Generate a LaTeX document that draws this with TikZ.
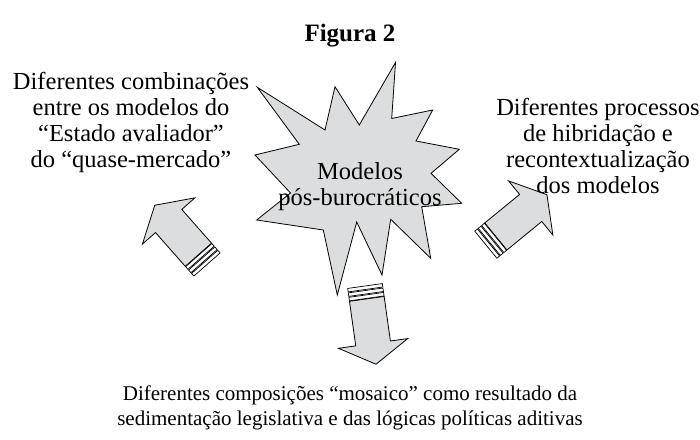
\documentclass[tikz,border=0pt]{standalone}
\usepackage{fontspec}
\setmainfont{Liberation Serif}
\usepackage{tikz}
\usetikzlibrary{positioning}
\definecolor{cinza}{HTML}{DCDDDE}

\begin{document}
\begin{tikzpicture}[x=1pt, y=1pt,
  seta/.style={draw=black, fill=cinza, line width=0.8pt, line join=miter},
  faixa/.style={draw=black, fill=white, line width=0.7pt},
  texto/.style={inner sep=0pt, align=center, font=\fontsize{24.5}{26}\selectfont},
  rodape/.style={inner sep=0pt, align=center, font=\fontsize{21}{25}\selectfont}]
\useasboundingbox (0,0) rectangle (700,439);

% Titulo
\node[inner sep=0pt, anchor=base, font=\fontsize{25}{28}\selectfont\bfseries] (titulo) at (350,397) {Figura 2};

% Estrela
\draw[seta] (395.5,376.5) -- (391.7,320.5) -- (432.7,329) -- (416,298) -- (459.3,289.7)
  -- (431,265.7) -- (461.7,235.7) -- (421.7,232.3) -- (430.7,180.7) -- (390.7,219.7)
  -- (382,164) -- (356.7,217) -- (337.3,144) -- (323.3,209) -- (256.7,219)
  -- (290.5,246) -- (255,284) -- (299.3,294.7) -- (257.3,351.7) -- (325,309)
  -- (335,352.3) -- (359.3,314) -- cycle;
\node[texto] (centro) at (360,252) {Modelos\\pós-burocráticos};

% Seta esquerda
\begin{scope}[shift={(207,174.5)}, rotate=131.4]
  \draw[seta] (13,-17.5) -- (58,-17.5) -- (58,-35) -- (79,0) -- (58,35) -- (58,17.5) -- (13,17.5) -- cycle;
  \draw[faixa] (0,-17.5) rectangle (3.5,17.5);
  \draw[faixa] (4.5,-17.5) rectangle (8,17.5);
  \draw[faixa] (9,-17.5) rectangle (12.5,17.5);
\end{scope}

% Seta direita
\begin{scope}[shift={(485.8,194.3)}, rotate=39.3]
  \draw[seta] (13,-17.5) -- (58,-17.5) -- (58,-35) -- (79,0) -- (58,35) -- (58,17.5) -- (13,17.5) -- cycle;
  \draw[faixa] (0,-17.5) rectangle (3.5,17.5);
  \draw[faixa] (4.5,-17.5) rectangle (8,17.5);
  \draw[faixa] (9,-17.5) rectangle (12.5,17.5);
\end{scope}

% Seta em baixo
\begin{scope}[shift={(365,153)}, rotate=-82]
  \draw[seta] (13,-17.5) -- (58,-17.5) -- (58,-35) -- (79,0) -- (58,35) -- (58,17.5) -- (13,17.5) -- cycle;
  \draw[faixa] (0,-17.5) rectangle (3.5,17.5);
  \draw[faixa] (4.5,-17.5) rectangle (8,17.5);
  \draw[faixa] (9,-17.5) rectangle (12.5,17.5);
\end{scope}

% Textos
\node[texto] (esquerda) at (131,317) {Diferentes combinações\\entre os modelos do\\“Estado avaliador”\\do “quase-mercado”};
\node[texto] (direita) at (598,293) {Diferentes processos\\de hibridação e\\recontextualização\\dos modelos};
\node[rodape] (baixo) at (350,31) {Diferentes composições “mosaico” como resultado da\\sedimentação legislativa e das lógicas políticas aditivas};
\end{tikzpicture}
\end{document}
